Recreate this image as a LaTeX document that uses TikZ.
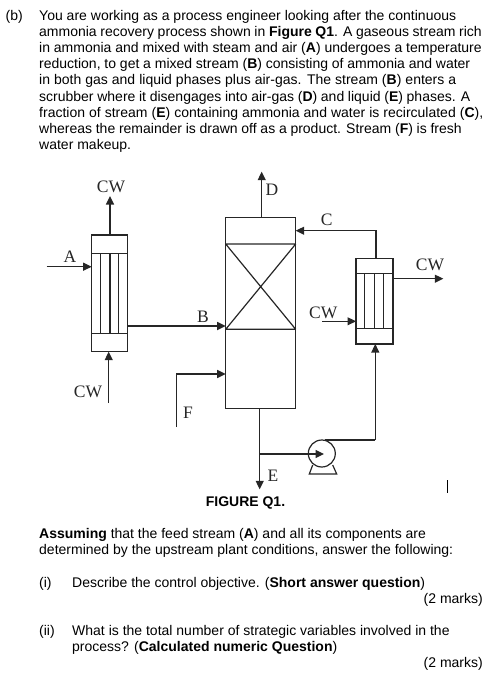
\documentclass[tikz,border=0pt]{standalone}
\usepackage{fontspec}
\setmainfont{Liberation Sans}
\newfontfamily\serifx{Liberation Serif}
\usetikzlibrary{arrows.meta}
\tikzset{
  x=1pt,y=-1pt,
  pipe/.style={draw=black!85,line width=1.1pt},
  flow/.style={pipe,-{Triangle[length=8.5pt,width=8pt]}},
  lab/.style={font=\serifx\fontsize{17.5}{17.5}\selectfont,inner sep=0pt,text=black!85},
  para/.style={font=\fontsize{14}{16}\selectfont,anchor=base west,inner sep=0pt},
  vessel/.style={draw=black!85,line width=1.2pt},
}
\begin{document}
\begin{tikzpicture}
\useasboundingbox (0,0) rectangle (501,696);
% text
\node[para] (pb) at (5.5,20.5) {(b)};
\foreach \n/\y/\w/\t in {
 l1/20.5/417/{You are working as a process engineer looking after the continuous},
 l2/36.5/442.5/{ammonia recovery process shown in \textbf{Figure Q1}. A gaseous stream rich},
 l3/52.5/442.5/{in ammonia and mixed with steam and air (\textbf{A}) undergoes a temperature},
 l4/68.5/431/{reduction, to get a mixed stream (\textbf{B}) consisting of ammonia and water},
 l5/84.5/417/{in both gas and liquid phases plus air-gas. The stream (\textbf{B}) enters a},
 l6/101/431/{scrubber where it disengages into air-gas (\textbf{D}) and liquid (\textbf{E}) phases. A},
 l7/117/444/{fraction of stream (\textbf{E}) containing ammonia and water is recirculated (\textbf{C}),},
 l8/133/422.5/{whereas the remainder is drawn off as a product. Stream (\textbf{F}) is fresh}}
 {\node[para] (\n) at (39,\y) {\makebox[\w pt][s]{\t}};}
\node[para] (l9) at (39,149) {water makeup.};
\node[para,anchor=base] (fig) at (245.5,506) {\textbf{FIGURE Q1.}};
\node[para] (a1) at (39,538.3) {\textbf{Assuming} that the feed stream (\textbf{A}) and all its components are};
\node[para] (a2) at (39,554.3) {determined by the upstream plant conditions, answer the following:};
\node[para] (q1n) at (39,587) {(i)};
\node[para] (q1) at (72,587) {Describe the control objective. (\textbf{Short answer question})};
\node[para,anchor=base east] (m1) at (483,603.3) {(2 marks)};
\node[para] (q2n) at (39,635) {(ii)};
\node[para] (q2a) at (72,635) {What is the total number of strategic variables involved in the};
\node[para] (q2b) at (72,651) {process? (\textbf{Calculated numeric Question})};
\node[para,anchor=base east] (m2) at (483,667.3) {(2 marks)};
% column
\coordinate (colNW) at (225.7,217.3);
\coordinate (colSE) at (295.7,408.7);
\draw[vessel] (colNW) rectangle (colSE);
\coordinate (pTL) at (225.7,244);
\coordinate (pTR) at (295.7,244);
\coordinate (pBL) at (225.7,329.3);
\coordinate (pBR) at (295.7,329.3);
\draw[vessel] (pTL)--(pTR) (pBL)--(pBR) (pTL)--(pBR) (pTR)--(pBL);
% HX1
\draw[vessel] (91.7,235) rectangle (127.7,351.7);
\draw[vessel] (91.7,253.3)--(127.7,253.3) (91.7,333.3)--(127.7,333.3);
\draw[vessel] (100.3,253.3)--(100.3,333.3) (110,253.3)--(110,333.3) (118.3,253.3)--(118.3,333.3);
% HX2
\draw[vessel] (356,258.7) rectangle (393,344);
\draw[vessel] (356,273.3)--(393,273.3) (356,328.7)--(393,328.7);
\draw[vessel] (364.7,273.3)--(364.7,328.7) (374.3,273.3)--(374.3,328.7) (383.3,273.3)--(383.3,328.7);
% pump
\node[draw=black!85,line width=1.2pt,circle,minimum size=27pt,inner sep=0pt] (pump) at (321.8,453.5) {};
\draw[vessel] (312.7,465)--(309.3,474)--(336.7,474)--(332.7,465);
% streams
\draw[flow,line width=1.4pt] (110,235)--(110,196);
\node[lab] (cw1) at (111,187) {CW};
\draw[flow] (46.7,266.7)--(91.7,266.7);
\node[lab] (A) at (70,256.5) {A};
\draw[flow,line width=1.7pt] (127.7,326)--(225.7,326);
\node[lab] (B) at (203,317) {B};
\draw[flow] (108.7,403)--(108.7,351.7);
\node[lab] (cw2) at (88,392) {CW};
\draw[flow] (176.7,427)--(176.7,374)--(225.7,374);
\node[lab] (F) at (188,412.5) {F};
\draw[flow] (261.7,217.3)--(261.7,171.7);
\node[lab] (D) at (272,190) {D};
\draw[flow] (376,258.7)--(376,230.7)--(295.7,230.7);
\node[lab] (C) at (326.7,219.3) {C};
\draw[flow] (393,278.7)--(443.3,278.7);
\node[lab] (cw3) at (430,265) {CW};
\draw[flow] (322.3,321.3)--(356,321.3);
\node[lab] (cw4) at (323.3,312.5) {CW};
\draw[flow] (259.7,408.7)--(259.7,489.3);
\node[lab] (E) at (273,476) {E};
\draw[flow] (259.7,454)--(324,454);
\draw[pipe] (325,440)--(375.3,440);
\draw[flow] (375.3,440)--(375.3,344);
\draw[line width=0.9pt] (447.3,480)--(447.3,492.7);
\end{tikzpicture}
\end{document}
